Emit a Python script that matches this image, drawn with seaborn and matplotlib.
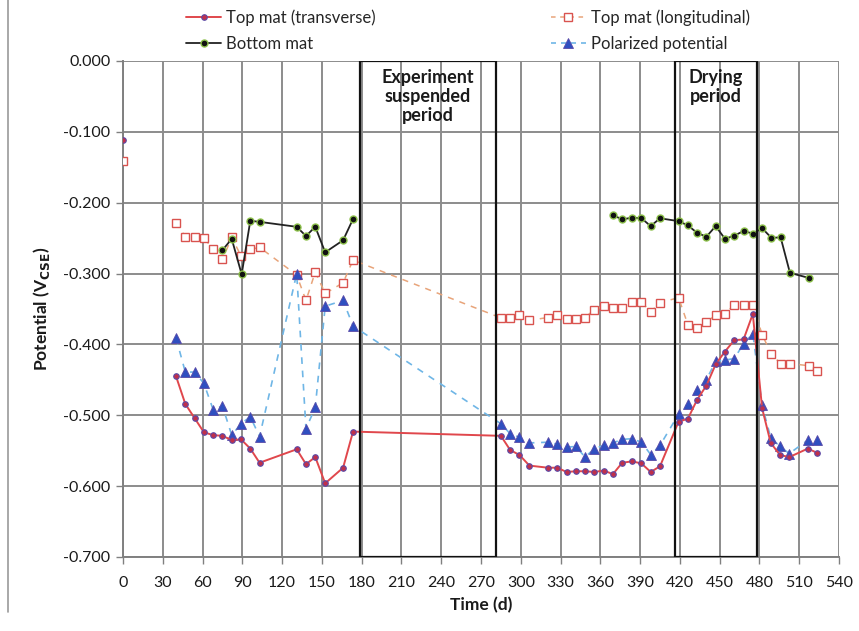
import numpy as np
import pandas as pd
import matplotlib
matplotlib.use("Agg")
import matplotlib.pyplot as plt
from matplotlib.lines import Line2D
from matplotlib.patches import Rectangle
import seaborn as sns

# ---------------- data ----------------
tr_x0 = [0]
tr_y0 = [-0.112]
tr_x = [40, 47, 54, 61, 68, 75, 82, 89, 96, 103, 131, 138, 145, 152.5, 166, 173.5,
        285, 292, 299, 306.5, 320.5, 327.5, 334.5, 341.5, 348.5, 355.5, 362.5, 369.5,
        376.5, 384, 391, 398, 405, 419, 426, 433, 440, 447, 454, 461, 468, 475, 482,
        488.5, 495.5, 502.5, 516.5, 523.5]
tr_y = [-0.445, -0.484, -0.504, -0.524, -0.528, -0.529, -0.535, -0.534, -0.547, -0.567,
        -0.548, -0.569, -0.559, -0.596, -0.574, -0.523,
        -0.529, -0.549, -0.556, -0.571, -0.574, -0.574, -0.580, -0.579, -0.579, -0.580,
        -0.578, -0.583, -0.567, -0.565, -0.568, -0.580, -0.572, -0.509, -0.505, -0.478,
        -0.458, -0.428, -0.410, -0.394, -0.393, -0.357, -0.490, -0.539, -0.556, -0.559,
        -0.547, -0.553]

lo_x0 = [0]
lo_y0 = [-0.141]
lo_x = [40, 47, 54, 61, 68, 75, 82, 89, 96, 103, 131, 138, 145, 152.5, 166, 173.5,
        285, 292, 299, 306.5, 320.5, 327.5, 334.5, 341.5, 348.5, 355.5, 362.5, 369.5,
        376.5, 384, 391, 398, 405, 419, 426, 433, 440, 447, 454, 461, 468, 475, 482,
        489, 496, 503, 517, 523.5]
lo_y = [-0.228, -0.248, -0.248, -0.250, -0.265, -0.280, -0.249, -0.275, -0.266, -0.263,
        -0.302, -0.338, -0.298, -0.328, -0.313, -0.281,
        -0.3625, -0.3625, -0.358, -0.366, -0.362, -0.358, -0.3645, -0.3645, -0.362, -0.351,
        -0.346, -0.349, -0.349, -0.340, -0.340, -0.354, -0.341, -0.334, -0.372, -0.3775,
        -0.368, -0.359, -0.357, -0.344, -0.344, -0.344, -0.386, -0.414, -0.427, -0.427,
        -0.430, -0.437]

bo_x1 = [75, 82, 89.5, 96, 103, 131, 138, 145, 152.5, 166, 173.5]
bo_y1 = [-0.267, -0.251, -0.301, -0.2255, -0.227, -0.234, -0.247, -0.234, -0.270, -0.253, -0.223]
bo_x2 = [369.5, 376.5, 384, 391, 398, 405, 419, 426, 433, 440, 447, 454, 461, 468, 475,
         482, 489, 496, 503, 517]
bo_y2 = [-0.2175, -0.2236, -0.221, -0.222, -0.233, -0.222, -0.226, -0.232, -0.2425, -0.248,
         -0.233, -0.251, -0.2465, -0.240, -0.2435, -0.236, -0.2495, -0.249, -0.299, -0.306]

po_x = [40, 47, 54, 61, 68, 75, 82, 89, 96, 103, 131, 138, 145, 152.5, 166, 173.5,
        285, 292, 299, 306.5, 320.5, 327.5, 334.5, 341.5, 348.5, 355.5, 362.5, 369.5,
        376.5, 384, 391, 398, 405, 419, 426, 433, 440, 447, 454, 461, 468, 475, 482,
        488.5, 495.5, 502.5, 516.5, 523.5]
po_y = [-0.391, -0.439, -0.439, -0.455, -0.492, -0.487, -0.528, -0.512, -0.502, -0.530,
        -0.300, -0.519, -0.489, -0.346, -0.338, -0.374,
        -0.512, -0.526, -0.531, -0.539, -0.538, -0.541, -0.545, -0.544, -0.559, -0.547,
        -0.5425, -0.539, -0.534, -0.533, -0.538, -0.5555, -0.5425, -0.4985, -0.4835,
        -0.465, -0.4496, -0.424, -0.422, -0.420, -0.399, -0.3846, -0.486, -0.5315,
        -0.544, -0.554, -0.535, -0.535]

labels = ["Top mat (transverse)", "Top mat (longitudinal)", "Bottom mat", "Polarized potential"]
x_ticks = list(range(0, 541, 30))
y_ticks = [0.0, -0.1, -0.2, -0.3, -0.4, -0.5, -0.6, -0.7]
periods = [(179, 281), (416, 478)]
period_labels = ["Experiment\nsuspended\nperiod", "Drying\nperiod"]

# ---------------- style ----------------
sns.set_theme(style="white")
plt.rcParams['font.family'] = ['Lato', 'DejaVu Sans']
plt.rcParams['axes.unicode_minus'] = False

fig = plt.figure(figsize=(8.59, 6.31), dpi=100)
ax = fig.add_axes([123 / 859, 1 - 557 / 631, (839 - 123) / 859, (557 - 61) / 631])

red = "#e0474c"
tan = "#e8a47a"
blue_line = "#6fb6e6"
mk_tr = dict(marker="o", markersize=4, markerfacecolor="#c0304a", markeredgecolor="#5a4aa8", markeredgewidth=0.8)
mk_lo = dict(marker="s", markersize=6, markerfacecolor="white", markeredgecolor="#d9534f", markeredgewidth=1.0)
mk_bo = dict(marker="o", markersize=5, markerfacecolor="#111111", markeredgecolor="#8cc04a", markeredgewidth=1.0)
mk_po = dict(marker="^", markersize=7, markerfacecolor="#2f4fc0", markeredgecolor="#5a4aa8", markeredgewidth=0.6)

# longitudinal (dashed tan with squares)
sns.lineplot(x=lo_x, y=lo_y, ax=ax, sort=False, estimator=None, color=tan,
             linestyle=(0, (4, 4)), linewidth=1.1, zorder=3, **mk_lo)
sns.lineplot(x=lo_x0, y=lo_y0, ax=ax, sort=False, estimator=None, color=tan,
             linestyle="none", zorder=3, **mk_lo)
# polarized (dashed light blue with triangles)
sns.lineplot(x=po_x, y=po_y, ax=ax, sort=False, estimator=None, color=blue_line,
             linestyle=(0, (4, 4)), linewidth=1.2, zorder=4, **mk_po)
# bottom mat
for bx, by in [(bo_x1, bo_y1), (bo_x2, bo_y2)]:
    sns.lineplot(x=bx, y=by, ax=ax, sort=False, estimator=None, color="#222222",
                 linewidth=1.3, zorder=5, **mk_bo)
# transverse
sns.lineplot(x=tr_x, y=tr_y, ax=ax, sort=False, estimator=None, color=red,
             linewidth=1.4, zorder=6, **mk_tr)
sns.lineplot(x=tr_x0, y=tr_y0, ax=ax, sort=False, estimator=None, color=red,
             linestyle="none", zorder=6, **mk_tr)

# period boxes
for (a, b), lab in zip(periods, period_labels):
    ax.add_patch(Rectangle((a, -0.7), b - a, 0.7, fill=False, edgecolor="#111111",
                           linewidth=1.6, zorder=7))
    ax.text((a + b) / 2, -0.011, lab, ha="center", va="top", fontsize=13,
            fontweight="bold", color="#1a1a1a", linespacing=1.15, zorder=8)

ax.set_xlim(0, 540)
ax.set_ylim(-0.7, 0.0)
ax.set_xticks(x_ticks)
ax.set_yticks(y_ticks)
ax.set_yticklabels([f"{v:.3f}" if v != 0 else "0.000" for v in y_ticks])
ax.grid(True, color="#8c8c8c", linewidth=1.4)
ax.set_axisbelow(True)
for s in ["top", "right"]:
    ax.spines[s].set_visible(False)
for s in ["left", "bottom"]:
    ax.spines[s].set_color("#808080")
    ax.spines[s].set_linewidth(1.4)
ax.tick_params(axis="both", which="both", direction="out", length=5, width=1,
               color="#808080", labelsize=11.5, labelcolor="#1a1a1a", pad=4, bottom=True, left=True)
ax.tick_params(axis="x", pad=9)
ax.set_xlabel("Time (d)", fontsize=12.5, fontweight="bold", color="#1a1a1a", labelpad=5)
ax.set_ylabel("Potential (V$_{\\mathbf{CSE}}$)", fontsize=12.5, fontweight="bold", color="#1a1a1a", labelpad=8)

# legend
h_tr = Line2D([], [], color=red, linewidth=1.4, **mk_tr)
h_lo = Line2D([], [], color=tan, linestyle=(0, (3, 3)), linewidth=1.1, **mk_lo)
h_bo = Line2D([], [], color="#222222", linewidth=1.3, **mk_bo)
h_po = Line2D([], [], color=blue_line, linestyle=(0, (3, 3)), linewidth=1.2, **mk_po)
fig.legend([h_tr, h_bo, h_lo, h_po], [labels[0], labels[2], labels[1], labels[3]],
           ncol=2, loc="center", bbox_to_anchor=(0.545, 0.951), frameon=False,
           fontsize=12, columnspacing=10.5, labelspacing=0.6, handlelength=2.1,
           handletextpad=0.3)

# chart frame (left edge visible in reference)
fig.add_artist(Line2D([8 / 859, 8 / 859], [0.03, 1.0], transform=fig.transFigure,
                      color="#9a9a9a", linewidth=1.2))

fig.savefig("out.png", dpi=100)
